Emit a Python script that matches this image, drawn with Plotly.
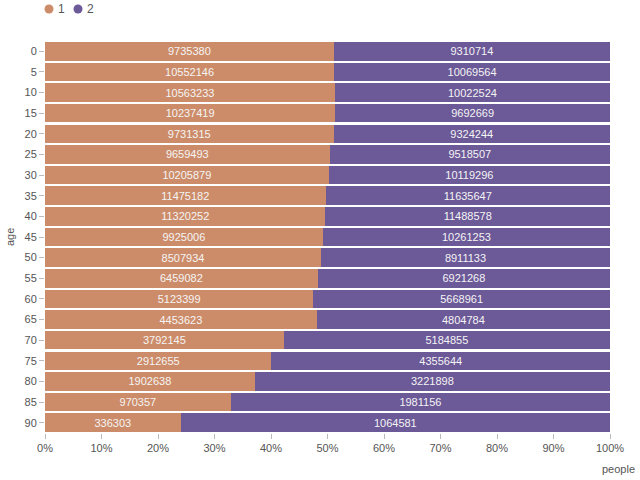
import plotly.graph_objects as go

ages = [0, 5, 10, 15, 20, 25, 30, 35, 40, 45, 50, 55, 60, 65, 70, 75, 80, 85, 90]
sex1 = [9735380, 10552146, 10563233, 10237419, 9731315, 9659493, 10205879, 11475182,
        11320252, 9925006, 8507934, 6459082, 5123399, 4453623, 3792145, 2912655,
        1902638, 970357, 336303]
sex2 = [9310714, 10069564, 10022524, 9692669, 9324244, 9518507, 10119296, 11635647,
        11488578, 10261253, 8911133, 6921268, 5668961, 4804784, 5184855, 4355644,
        3221898, 1981156, 1064581]
series_names = ["1", "2"]
colors = ["#cd8c69", "#6c5998"]

FONT = "Liberation Sans"
TXT = "#555555"
cats = [str(a) for a in ages]

fig = go.Figure()
for name, vals, col in zip(series_names, [sex1, sex2], colors):
    fig.add_trace(go.Bar(
        y=cats, x=vals, orientation="h", name=name,
        marker=dict(color=col, line=dict(width=0)),
        text=[str(v) for v in vals], textposition="inside",
        insidetextanchor="middle", textangle=0,
        textfont=dict(color="#f4f4f4", size=11, family=FONT),
        showlegend=False, hoverinfo="skip",
    ))

# manual legend: circle shapes + text (positions in pixels converted to paper)
L, T, W, H = 45, 41, 565, 392
def px(x):
    return (x - L) / W
def py(y):
    return (T + H - y) / H

legend_px = [49, 78]
shapes = []
annotations = []
for name, col, lx in zip(series_names, colors, legend_px):
    shapes.append(dict(type="circle", xref="paper", yref="paper",
                       xsizemode="pixel", ysizemode="pixel",
                       xanchor=px(lx), yanchor=py(9),
                       x0=-4.5, x1=4.5, y0=-4.5, y1=4.5,
                       fillcolor=col, line=dict(width=0)))
    annotations.append(dict(
        text=name, xref="paper", yref="paper", x=px(lx + 7), y=py(9),
        xanchor="left", yanchor="middle", showarrow=False,
        font=dict(size=12, color=TXT, family=FONT)))

annotations += [
    dict(text="people", xref="paper", yref="paper", x=px(618), y=py(469),
         xanchor="center", yanchor="middle", showarrow=False,
         font=dict(size=11, color=TXT, family=FONT)),
    dict(text="age", xref="paper", yref="paper", x=px(10), y=0.5,
         xanchor="center", yanchor="middle", textangle=-90, showarrow=False,
         font=dict(size=11, color=TXT, family=FONT)),
]

fig.update_layout(
    template="none",
    width=640, height=480,
    margin=dict(l=L, r=640 - L - W, t=T, b=480 - T - H),
    barmode="stack", barnorm="percent", bargap=0.1,
    plot_bgcolor="white", paper_bgcolor="white",
    font=dict(family=FONT, size=11, color=TXT),
    showlegend=False,
    xaxis=dict(range=[0, 100], tickmode="array",
               tickvals=[0, 10, 20, 30, 40, 50, 60, 70, 80, 90, 100],
               ticktext=[f"{v}%" for v in range(0, 101, 10)],
               showgrid=False, zeroline=False, showline=False,
               ticks="outside", ticklen=5, tickcolor="#bbbbbb", tickwidth=1,
               tickfont=dict(size=11, color=TXT, family=FONT)),
    yaxis=dict(categoryorder="array", categoryarray=cats, autorange="reversed",
               tickmode="array", tickvals=cats, ticktext=cats,
               showgrid=False, zeroline=False, showline=False,
               ticks="outside", ticklen=5, tickcolor="#bbbbbb", tickwidth=1,
               tickfont=dict(size=11, color=TXT, family=FONT)),
    shapes=shapes,
    annotations=annotations,
)

fig.write_html("out.html")
